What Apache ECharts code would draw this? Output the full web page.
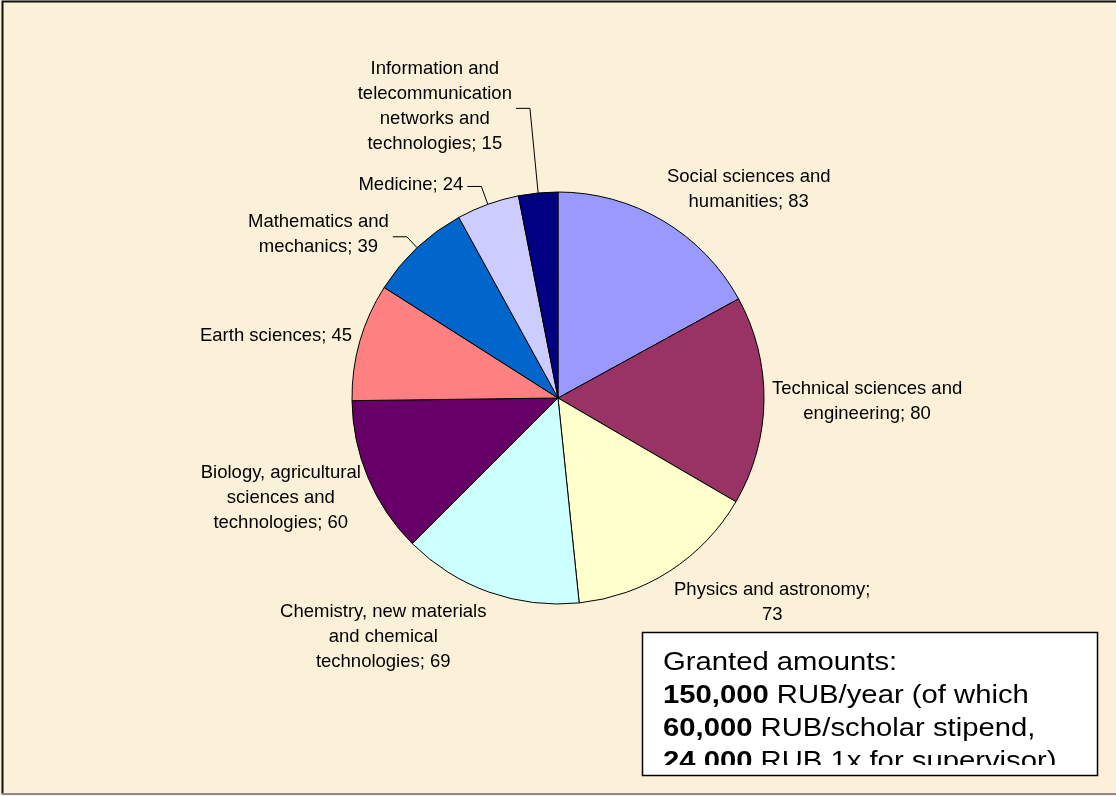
<!DOCTYPE html>
<html>
<head>
<meta charset="utf-8">
<title>Grants by field of science</title>
<script src="https://cdn.jsdelivr.net/npm/echarts@6/dist/echarts.min.js"></script>
<style>
  html, body { margin: 0; padding: 0; background: #FBF0D8; }
  #chart { width: 1116px; height: 796px; }
</style>
</head>
<body>
<div id="chart"></div>
<script>
// Fields of science (line breaks as they wrap in the labels) and number of grants
const categories = [
  'Social sciences and\nhumanities',
  'Technical sciences and\nengineering',
  'Physics and astronomy',
  'Chemistry, new materials\nand chemical\ntechnologies',
  'Biology, agricultural\nsciences and\ntechnologies',
  'Earth sciences',
  'Mathematics and\nmechanics',
  'Medicine',
  'Information and\ntelecommunication\nnetworks and\ntechnologies'
];
const values = [83, 80, 73, 69, 60, 45, 39, 24, 15];

// Labels whose value goes on its own line
const valueOnOwnLine = ['Physics and astronomy'];

// Note box: [bold part, plain part] per line
const noteLines = [
  ['', 'Granted amounts:'],
  ['150,000', ' RUB/year (of which'],
  ['60,000', ' RUB/scholar stipend,'],
  ['24,000', ' RUB 1x for supervisor)']
];

// Styling / layout
const sliceColors = ['#9999FF', '#993366', '#FFFFCC', '#CCFFFF', '#660066',
                     '#FF8080', '#0066CC', '#CCCCFF', '#000080'];
const leaderLength = [0, 0, 0, 0, 0, 0, 15, 19, 85];
const CX = 558, CY = 398, R = 206;
const FONT = '"Liberation Sans", Arial, sans-serif';

const total = values.reduce((a, b) => a + b, 0);
const starts = [];
values.reduce((acc, v) => { starts.push(acc); return acc + v; }, 0);
const clamp = v => Math.max(-1, Math.min(1, v));

const chart = echarts.init(document.getElementById('chart'), null, { renderer: 'canvas' });

const noteText = noteLines.map(([b, t]) => (b ? '{b|' + b + '}' : '') + '{r|' + t + '}').join('\n');

const option = {
  backgroundColor: '#FBF0D8',
  animation: false,
  series: [{
    type: 'pie',
    center: [CX, CY],
    radius: R,
    startAngle: 90,
    clockwise: true,
    avoidLabelOverlap: false,
    emphasis: { disabled: true },
    itemStyle: { borderColor: '#000', borderWidth: 1 },
    label: {
      show: true,
      position: 'outside',
      color: '#000',
      fontFamily: FONT,
      fontSize: 18.5,
      lineHeight: 25,
      formatter: p => p.name + (valueOnOwnLine.includes(p.name) ? ';\n' : '; ') + p.value
    },
    labelLine: { show: false, lineStyle: { color: '#000', width: 1 } },
    labelLayout: function (params) {
      const i = params.dataIndex;
      const mid = (starts[i] + values[i] / 2) / total * Math.PI * 2;
      const dx = Math.sin(mid), dy = -Math.cos(mid);
      const w = params.labelRect.width, h = params.labelRect.height;
      const lead = leaderLength[i];
      if (lead) {
        // leader: radial leg out of the slice, then a short horizontal leg
        const side = dx < 0 ? -1 : 1;
        const p0 = [CX + R * dx, CY + R * dy];
        const p1 = [CX + (R + lead) * dx, CY + (R + lead) * dy];
        const p2 = [p1[0] + side * 14, p1[1]];
        return {
          x: p2[0] + side * (4 + w / 2),
          y: p2[1] - 2,
          align: 'center',
          verticalAlign: 'middle',
          labelLinePoints: [p0, p1, p2]
        };
      }
      // otherwise the label box sits just outside the rim at the slice's mid-angle
      const ax = CX + (R + 8) * dx, ay = CY + (R + 8) * dy;
      return {
        x: ax + clamp(3 * dx) * w / 2,
        y: ay + clamp(1.15 * dy) * h / 2,
        align: 'center',
        verticalAlign: 'middle'
      };
    },
    data: values.map((v, i) => ({
      name: categories[i],
      value: v,
      itemStyle: { color: sliceColors[i] },
      labelLine: { show: leaderLength[i] > 0 }
    }))
  }],
  graphic: [
    // outer frame
    {
      type: 'polyline', z: 10, silent: true,
      shape: { points: [[1116, 1.5], [2.5, 1.5], [2.5, 794]] },
      style: { stroke: '#111', lineWidth: 2, fill: null }
    },
    {
      type: 'line', z: 10, silent: true,
      shape: { x1: 2, y1: 794, x2: 1116, y2: 794 },
      style: { stroke: '#8a8a8a', lineWidth: 2 }
    },
    // note box
    {
      type: 'rect', z: 20, silent: true,
      shape: { x: 642.5, y: 632.5, width: 455, height: 143 },
      style: { fill: '#fff', stroke: null }
    },
    {
      type: 'text', z: 21, silent: true,
      x: 663, y: 647, scaleX: 1.17, originX: 0, originY: 0,
      style: {
        text: noteText,
        x: 0, y: 0,
        verticalAlign: 'top',
        fill: '#000',
        fontFamily: FONT,
        fontSize: 25,
        lineHeight: 33,
        rich: {
          b: { fontFamily: FONT, fontSize: 25, fontWeight: 'bold', lineHeight: 33, fill: '#000' },
          r: { fontFamily: FONT, fontSize: 25, lineHeight: 33, fill: '#000' }
        }
      }
    },
    // text past the box's inner bottom edge is hidden
    {
      type: 'rect', z: 22, silent: true,
      shape: { x: 643, y: 765, width: 454, height: 10 },
      style: { fill: '#fff', stroke: null }
    },
    {
      type: 'rect', z: 23, silent: true,
      shape: { x: 642.5, y: 632.5, width: 455, height: 143 },
      style: { fill: null, stroke: '#000', lineWidth: 1.5 }
    }
  ]
};

chart.setOption(option);
</script>
</body>
</html>
